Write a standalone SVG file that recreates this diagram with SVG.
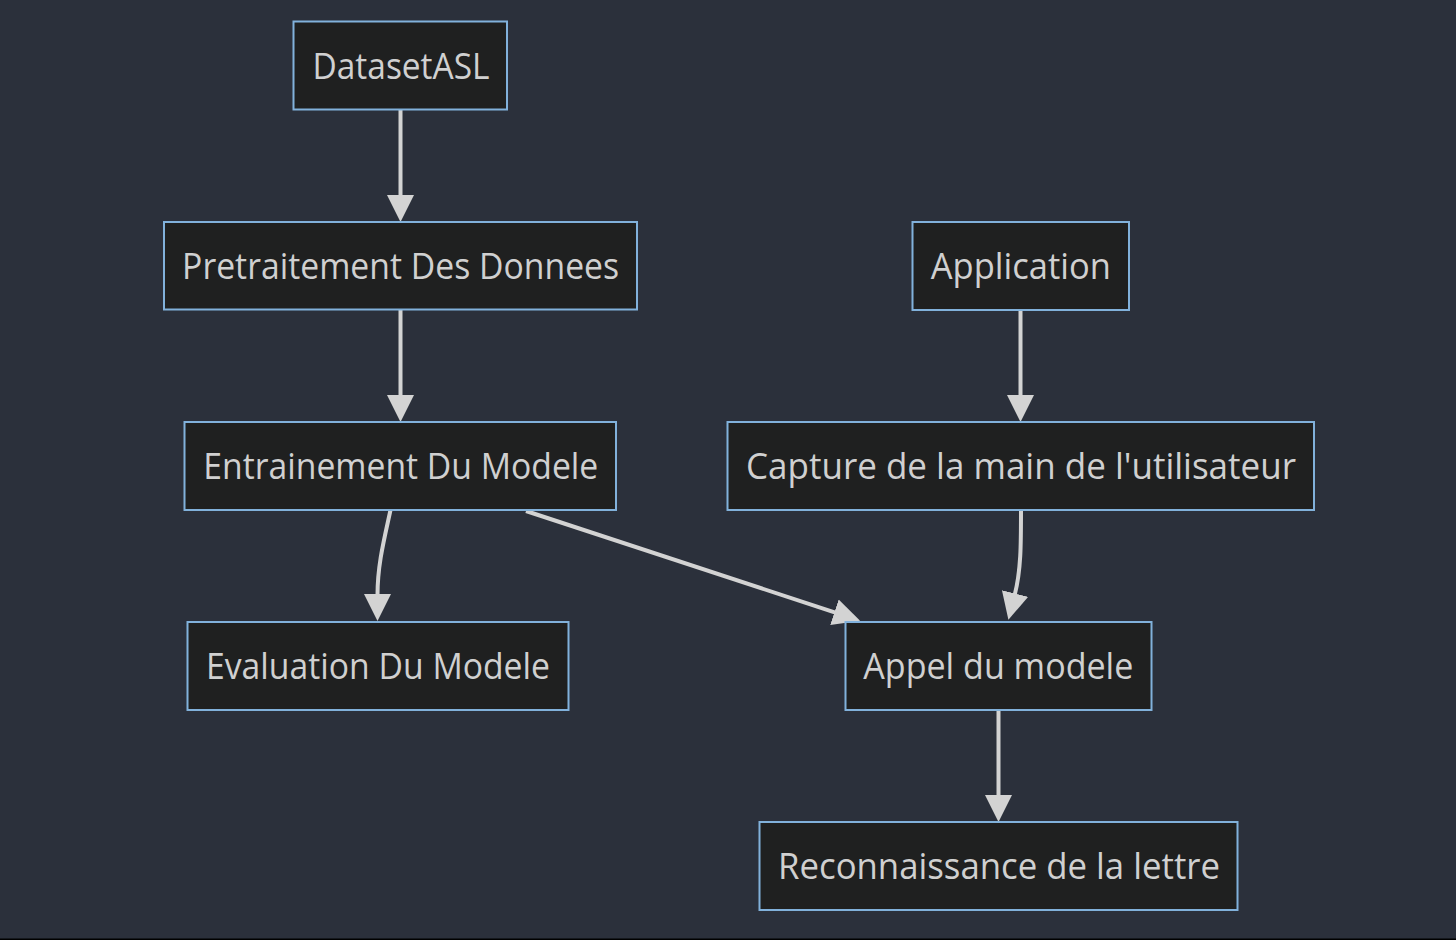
<svg xmlns="http://www.w3.org/2000/svg" width="1456" height="940" viewBox="0 0 1456 940">
<defs>
<style>
.node rect{fill:#1f2020;stroke:#81b1db;stroke-width:2}
.node text{fill:#d0d0d0;font-family:"Open Sans","Noto Sans","DejaVu Sans",sans-serif;font-size:36px;text-anchor:middle}
.edge{fill:none;stroke:#d3d3d3;stroke-width:4}
</style>
<marker id="ah" markerUnits="userSpaceOnUse" markerWidth="28" markerHeight="28" refX="1" refY="13.5" orient="auto" viewBox="0 0 28 27">
<path d="M0,0 L27,13.5 L0,27 Z" fill="#d3d3d3"/>
</marker>
</defs>
<rect x="0" y="0" width="1456" height="940" fill="#2b303b"/>
<rect x="0" y="938.5" width="1456" height="1.5" fill="#000000"/>
<g id="connectors">
<path class="edge" d="M400.5,110 L400.5,196" marker-end="url(#ah)"/>
<path class="edge" d="M400.5,309.5 L400.5,396" marker-end="url(#ah)"/>
<path class="edge" d="M390.5,510 C384,540 377.5,565 377.5,595" marker-end="url(#ah)"/>
<path class="edge" d="M526,511 L835.4,612.6" marker-end="url(#ah)"/>
<path class="edge" d="M1020.5,310 L1020.5,396" marker-end="url(#ah)"/>
<path class="edge" d="M1021,510 C1021,545 1021,570 1014.8,594.5" marker-end="url(#ah)"/>
<path class="edge" d="M998.5,710 L998.5,796" marker-end="url(#ah)"/>
</g>
<g id="DatasetASL" class="node">
<rect x="293.5" y="21.5" width="213.5" height="88"/>
<text x="401" y="79" textLength="177" lengthAdjust="spacingAndGlyphs">DatasetASL</text>
</g>
<g id="Pretraitement" class="node">
<rect x="164" y="222" width="473" height="87.5"/>
<text x="400.6" y="279" textLength="437" lengthAdjust="spacingAndGlyphs">Pretraitement Des Donnees</text>
</g>
<g id="Entrainement" class="node">
<rect x="184.5" y="422" width="431.5" height="88"/>
<text x="400.8" y="479" textLength="395" lengthAdjust="spacingAndGlyphs">Entrainement Du Modele</text>
</g>
<g id="Evaluation" class="node">
<rect x="187.5" y="622" width="381" height="88"/>
<text x="378" y="679" textLength="344" lengthAdjust="spacingAndGlyphs">Evaluation Du Modele</text>
</g>
<g id="Application" class="node">
<rect x="912.5" y="222" width="216.5" height="88"/>
<text x="1020.8" y="279" textLength="180" lengthAdjust="spacingAndGlyphs">Application</text>
</g>
<g id="Capture" class="node">
<rect x="727.5" y="422" width="586.5" height="88"/>
<text x="1021" y="479" textLength="550" lengthAdjust="spacingAndGlyphs">Capture de la main de l'utilisateur</text>
</g>
<g id="Appel" class="node">
<rect x="845.5" y="622" width="306" height="88"/>
<text x="998.3" y="679" textLength="270" lengthAdjust="spacingAndGlyphs">Appel du modele</text>
</g>
<g id="Reconnaissance" class="node">
<rect x="759.5" y="822" width="478" height="88"/>
<text x="999" y="879" textLength="442" lengthAdjust="spacingAndGlyphs">Reconnaissance de la lettre</text>
</g>
</svg>
